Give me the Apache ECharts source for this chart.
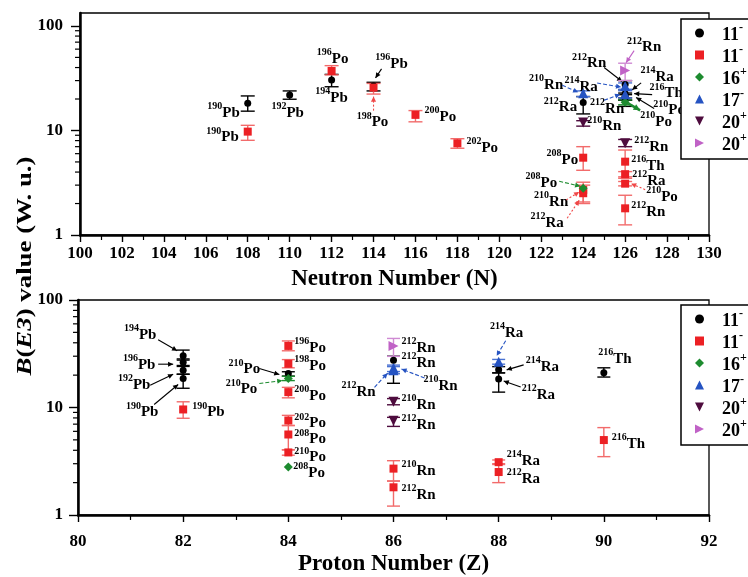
<!DOCTYPE html>
<html lang="en">
<head>
<meta charset="UTF-8">
<title>B(E3) values</title>
<style>html,body{margin:0;padding:0;background:#fff;}</style>
</head>
<body>
<div id="main" style="width:748px;height:577px;"></div>
<script src="https://cdn.jsdelivr.net/npm/echarts@6/dist/echarts.min.js"></script>
<script type="text/javascript">
// rows: [x, B(E3), errLow, errHigh, label]
// top panel: x = neutron number N
var topBlack = [
    [108, 18.2, 15.3, 21.4, '190Pb'],
    [110, 21.9, 19.9, 23.9, '192Pb'],
    [112, 30.4, 26.2, 34.4, '194Pb'],
    [114, 26.7, 23.9, 28.9, '196Pb'],
    [124, 18.5, 14.4, 21.1, '212Ra'],
    [126, 27.5, 17.0, 30.0, '212Rn'],
    [126, 22.4, 20.5, 24.5, '214Ra'],
    [126, 21.1, 19.5, 22.8, '216Th'],
    [126, 20.7, 19.5, 22.0, '210Po']
];
var topRed = [
    [108, 9.75, 8.05, 11.2, '190Pb'],
    [112, 37.1, 34.0, 41.7, '196Po'],
    [114, 25.7, 22.3, 28.2, '198Po'],
    [116, 14.1, 12.1, 15.5, '200Po'],
    [118, 7.54, 6.76, 8.34, '202Po'],
    [124, 5.49, 4.16, 7.0, '208Po'],
    [124, 2.70, 2.07, 3.2, '210Rn'],
    [124, 2.51, 2.0, 3.0, '212Ra'],
    [126, 5.03, 3.49, 6.5, '216Th'],
    [126, 3.82, 3.6, 4.04, '212Ra'],
    [126, 3.10, 2.95, 3.25, '210Po'],
    [126, 1.80, 1.25, 2.4, '212Rn']
];
var topGreen = [
    [124, 2.80, null, null, '208Po'],
    [126, 18.6, 17.6, 19.6, '210Po']
];
var topBlue = [
    [124, 22.7, 21.1, 23.9, '210Rn'],
    [126, 26.6, 24.8, 28.5, '214Ra'],
    [126, 22.2, 20.5, 24.0, '212Rn']
];
var topPurple = [
    [124, 11.9, 11.0, 12.4, '210Rn'],
    [126, 7.54, 7.0, 8.2, '212Rn']
];
var topMagenta = [
    [126, 37.4, 30.0, 44.0, '212Rn']
];

// bottom panel: x = proton number Z
var botBlack = [
    [82, 30.3, 27.6, 34.2, '194Pb'],
    [82, 26.4, 24.6, 28.3, '196Pb'],
    [82, 22.2, 20.4, 24.1, '192Pb'],
    [82, 18.6, 15.1, 20.4, '190Pb'],
    [84, 20.7, 19.6, 21.5, '210Po'],
    [86, 27.5, 16.8, 30.0, '212Rn'],
    [88, 22.4, 21.0, 24.0, '214Ra'],
    [88, 18.4, 13.9, 21.0, '212Ra'],
    [90, 21.1, 19.2, 23.4, '216Th']
];
var botRed = [
    [82, 9.59, 7.94, 11.3, '190Pb'],
    [84, 37.4, 33.7, 41.6, '196Po'],
    [84, 25.5, 23.4, 27.9, '198Po'],
    [84, 13.9, 12.3, 15.4, '200Po'],
    [84, 7.57, 6.8, 8.45, '202Po'],
    [84, 5.61, 4.04, 6.8, '208Po'],
    [84, 3.82, 3.6, 4.04, '210Po'],
    [86, 2.70, 2.07, 3.2, '210Rn'],
    [86, 1.81, 1.21, 2.07, '212Rn'],
    [88, 3.10, 2.95, 3.25, '214Ra'],
    [88, 2.51, 2.0, 3.0, '212Ra'],
    [90, 4.98, 3.49, 6.5, '216Th']
];
var botGreen = [
    [84, 18.6, 17.8, 19.5, '210Po'],
    [84, 2.79, null, null, '208Po']
];
var botBlue = [
    [86, 22.2, 20.6, 24.0, '212Rn'],
    [86, 23.3, 21.6, 24.8, '210Rn'],
    [88, 26.6, 25.3, 28.0, '214Ra']
];
var botPurple = [
    [86, 11.3, 10.6, 12.1, '210Rn'],
    [86, 7.52, 6.67, 8.1, '212Rn']
];
var botMagenta = [
    [86, 37.4, 29.9, 43.9, '212Rn']
];

var yMajorTicks = [1, 10, 100];
var yMinorTicks = [2, 3, 4, 5, 6, 7, 8, 9, 20, 30, 40, 50, 60, 70, 80, 90];

// label placement, pixels from the point: [dx, dy, align, arrow x1, y1, x2, y2, arrow width]
var topLayout = {
    k: [[-8, 8, 'right'], [-2, 16, 'center'], [0, 16, 'center'], [18, -24, 'center', 8, -17, 2, -8],
        [-6, 3, 'right'], [-36, -23, 'center', -21, -17, -3, -3], [32, -19, 'center', 16, -11, 7, -4],
        [41, -5, 'center', 27, -2, 9, -3], [44, 11, 'center', 29, 11, 11, 0]],
    r: [[-9, 4, 'right'], [1, -14, 'center'], [-1, 33, 'center', 0, 23, 0, 9], [9, 0, 'left'], [9, 3, 'left'],
        [-5, 0, 'right'], [-32, 10, 'center', -17, 10, -4, 2], [-36, 28, 'center', -16, 25, -4, 7],
        [6, 2, 'left'], [7, 5, 'left'], [21, 11, 'left', 20, 6, 6, 0], [6, 2, 'left']],
    g: [[-26, -7, 'right', -24, -7, -3, -2], [31, 18, 'center', 3, 1, 15, 8, 2.5]],
    u: [[-37, -10, 'center', -21, -8, -5, -1], [-44, -1, 'center', -28, -3, -4, 1], [-18, 13, 'center', -21, 6, -5, 0]],
    p: [[4, 2, 'left'], [9, 2, 'left']],
    m: [[19, -25, 'center', 9, -20, 1, -8]]
};
var botLayout = {
    k: [[-43, -23, 'center', -25, -16, -6, -5], [-44, 1, 'center', -25, 2, -10, 2], [-49, 13, 'center', -33, 15, -10, 4],
        [-41, 32, 'center', -29, 26, -5, 6], [-44, -6, 'center', -29, -5, -9, 1], [8, 1, 'left'],
        [27, -5, 'left', 25, -5, 8, 0], [23, 14, 'left', 22, 8, 5, 2], [11, -16, 'center']],
    r: [[9, 1, 'left'], [6, 0, 'left'], [6, 0, 'left'], [6, 2, 'left'], [6, 1, 'left'], [6, 3, 'left'], [6, 3, 'left'],
        [8, 0, 'left'], [8, 6, 'left'], [8, -3, 'left'], [8, 5, 'left'], [8, 2, 'left']],
    g: [[-31, 9, 'right', -29, 5, -6, 2], [5, 4, 'left']],
    u: [[-35, 20, 'center', -19, 17, -6, 3], [47, 16, 'center', 31, 10, 8, 1], [8, -31, 'center', 7, -21, -2, -6]],
    p: [[8, 1, 'left'], [8, 2, 'left']],
    m: [[8, 0, 'left']]
};

var FONT = 'Liberation Serif';
var groups = [
    {key: 'k', sup: ['11', '-'], symbol: 'circle', icon: 'circle', size: 7, rot: 0, color: '#000000', bar: '#000000', dash: null},
    {key: 'r', sup: ['11', '-'], symbol: 'rect', icon: 'rect', size: 8, rot: 0, color: '#ec2024', bar: '#f26b6b', dash: [2, 2]},
    {key: 'g', sup: ['16', '+'], symbol: 'diamond', icon: 'diamond', size: 9, rot: 0, color: '#1d8b2f', bar: '#1d8b2f', dash: [4, 2]},
    {key: 'u', sup: ['17', '-'], symbol: 'triangle', icon: 'triangle', size: 10, rot: 0, color: '#2553c2', bar: '#4a72d2', dash: [4, 2]},
    {key: 'p', sup: ['20', '+'], symbol: 'triangle', icon: 'path://M0,0L10,0L5,10Z', size: 10, rot: 180, color: '#4e0c3e', bar: '#4e0c3e', dash: null},
    {key: 'm', sup: ['20', '+'], symbol: 'triangle', icon: 'path://M0,0L10,5L0,10Z', size: 10, rot: -90, color: '#c062c6', bar: '#cf8ad3', dash: null}
];
var topRows = {k: topBlack, r: topRed, g: topGreen, u: topBlue, p: topPurple, m: topMagenta};
var botRows = {k: botBlack, r: botRed, g: botGreen, u: botBlue, p: botPurple, m: botMagenta};

var isoRich = {
    s: {fontFamily: FONT, fontWeight: 'bold', fontSize: 10, lineHeight: 10, verticalAlign: 'top', fill: '#000'},
    e: {fontFamily: FONT, fontWeight: 'bold', fontSize: 15, lineHeight: 19, verticalAlign: 'bottom', fill: '#000'}
};
function isoText(s) {
    var m = /^(\d+)(.*)$/.exec(s);
    return '{s|' + m[1] + '}{e|' + m[2] + '}';
}

function makeDeco(rows, layout, g, capHalf) {
    return function (params, api) {
        var i = params.dataIndex, r = rows[i], L = layout[i];
        var p = api.coord([r[0], r[1]]);
        var kids = [];
        if (r[2] != null) {
            var lo = api.coord([r[0], r[2]]), hi = api.coord([r[0], r[3]]);
            var bs = {stroke: g.bar, lineWidth: 1.4};
            kids.push({type: 'line', shape: {x1: p[0], y1: lo[1], x2: p[0], y2: hi[1]}, style: bs});
            kids.push({type: 'line', shape: {x1: p[0] - capHalf, y1: lo[1], x2: p[0] + capHalf, y2: lo[1]}, style: bs});
            kids.push({type: 'line', shape: {x1: p[0] - capHalf, y1: hi[1], x2: p[0] + capHalf, y2: hi[1]}, style: bs});
        }
        kids.push({type: 'text', x: p[0] + L[0], y: p[1] + L[1],
            style: {text: isoText(r[4]), rich: isoRich, align: L[2], verticalAlign: 'middle'}});
        if (L.length > 3) {
            var x1 = p[0] + L[3], y1 = p[1] + L[4], x2 = p[0] + L[5], y2 = p[1] + L[6];
            var w = L[7] || 1.1;
            var ac = g.key === 'r' ? '#f04848' : g.color;
            kids.push({type: 'line', shape: {x1: x1, y1: y1, x2: x2, y2: y2},
                style: {stroke: ac, lineWidth: w, lineDash: w > 2 ? null : g.dash}});
            var a = Math.atan2(y2 - y1, x2 - x1), hl = 4 + w, hw = 2 + w / 2;
            var c = Math.cos(a), s = Math.sin(a);
            kids.push({type: 'polygon', shape: {points: [[x2, y2],
                [x2 - hl * c + hw * s, y2 - hl * s - hw * c],
                [x2 - hl * c - hw * s, y2 - hl * s + hw * c]]}, style: {fill: ac}});
        }
        return {type: 'group', children: kids};
    };
}

function minorTicks(xAt, gi) {
    return {
        type: 'custom', xAxisIndex: gi, yAxisIndex: gi, silent: true, z: 1,
        data: yMinorTicks.map(function (v) { return [xAt, v]; }),
        encode: {x: 0, y: 1},
        renderItem: function (params, api) {
            var p = api.coord([api.value(0), api.value(1)]);
            return {type: 'line', shape: {x1: p[0] - 5, y1: p[1], x2: p[0], y2: p[1]},
                style: {stroke: '#000', lineWidth: 1.2}};
        }
    };
}

var series = [minorTicks(100, 0), minorTicks(80, 1)];
[[topRows, topLayout, 0, 'T', 7], [botRows, botLayout, 1, 'B', 6.5]].forEach(function (pn) {
    groups.forEach(function (g) {
        var rows = pn[0][g.key];
        var xy = rows.map(function (r) { return [r[0], r[1]]; });
        series.push({
            type: 'custom', name: pn[3] + g.key + '-deco', xAxisIndex: pn[2], yAxisIndex: pn[2],
            silent: true, z: 3, data: xy, encode: {x: 0, y: 1},
            renderItem: makeDeco(rows, pn[1][g.key], g, pn[4])
        });
        series.push({
            type: 'scatter', name: pn[3] + g.key, xAxisIndex: pn[2], yAxisIndex: pn[2],
            silent: true, z: 4, data: xy, symbol: g.symbol, symbolSize: g.size, symbolRotate: g.rot,
            itemStyle: {color: g.color, opacity: 1}
        });
    });
});

var legendRich = {
    n: {fontFamily: FONT, fontWeight: 'bold', fontSize: 18, color: '#000', lineHeight: 22, verticalAlign: 'bottom'},
    s: {fontFamily: FONT, fontWeight: 'bold', fontSize: 12, color: '#000', lineHeight: 12, verticalAlign: 'top'}
};
function legendCfg(prefix, top) {
    return {
        data: groups.map(function (g) { return {name: prefix + g.key, icon: g.icon}; }),
        left: 681, top: top, orient: 'vertical', selectedMode: false,
        itemWidth: 9, itemHeight: 9, itemGap: 0, padding: [3, 14, 5, 14],
        borderColor: '#000', borderWidth: 1.5, backgroundColor: '#fff',
        formatter: function (name) {
            var g = groups.filter(function (x) { return prefix + x.key === name; })[0];
            return '{n|' + g.sup[0] + '}{s|' + g.sup[1] + '}';
        },
        textStyle: {rich: legendRich, padding: [0, 0, 0, 13]}
    };
}

function xAxisCfg(gi, min, max, name, labelMargin, nameGap) {
    return {
        gridIndex: gi, type: 'value', min: min, max: max, interval: 2,
        axisLine: {show: true, onZero: false, lineStyle: {color: '#000', width: 2.5}},
        axisTick: {show: true, length: 7, lineStyle: {color: '#000', width: 1.4}},
        minorTick: {show: true, splitNumber: 2, length: 5, lineStyle: {color: '#000', width: 1.2}},
        splitLine: {show: false},
        axisLabel: {color: '#000', fontFamily: FONT, fontWeight: 'bold', fontSize: 17, margin: labelMargin},
        name: name, nameLocation: 'middle', nameGap: nameGap,
        nameTextStyle: {color: '#000', fontFamily: FONT, fontWeight: 'bold', fontSize: 23}
    };
}
function yAxisCfg(gi, max, labelMargin) {
    return {
        gridIndex: gi, type: 'log', logBase: 10, min: 1, max: max,
        axisLine: {show: true, lineStyle: {color: '#000', width: 2.5}},
        axisTick: {show: true, length: 9, customValues: yMajorTicks, lineStyle: {color: '#000', width: 1.4}},
        splitLine: {show: false},
        axisLabel: {color: '#000', fontFamily: FONT, fontWeight: 'bold', fontSize: 17, margin: labelMargin,
            customValues: yMajorTicks}
    };
}

var myChart = echarts.init(document.getElementById('main'));
myChart.setOption({
    animation: false,
    backgroundColor: '#fff',
    grid: [
        {left: 80, right: 39, top: 13, bottom: 342, show: true, borderColor: '#000', borderWidth: 1.3},
        {left: 78, right: 39, top: 300, bottom: 56, show: true, borderColor: '#000', borderWidth: 1.3}
    ],
    xAxis: [
        xAxisCfg(0, 100, 130, 'Neutron Number (N)', 10, 33),
        xAxisCfg(1, 80, 92, 'Proton Number (Z)', 18, 38)
    ],
    yAxis: [yAxisCfg(0, 133, 17), yAxisCfg(1, 100, 15)],
    legend: [legendCfg('T', 19), legendCfg('B', 305)],
    graphic: [{
        type: 'text', x: 25, y: 266, rotation: Math.PI / 2, scaleX: 1.22,
        style: {
            text: '{i|B}{n|(}{i|E3}{n|) value (W. u.)}', align: 'center', verticalAlign: 'middle',
            rich: {
                i: {fontFamily: FONT, fontWeight: 'bold', fontStyle: 'italic', fontSize: 22, fill: '#000'},
                n: {fontFamily: FONT, fontWeight: 'bold', fontSize: 22, fill: '#000'}
            }
        }
    }],
    series: series
});
</script>
</body>
</html>
